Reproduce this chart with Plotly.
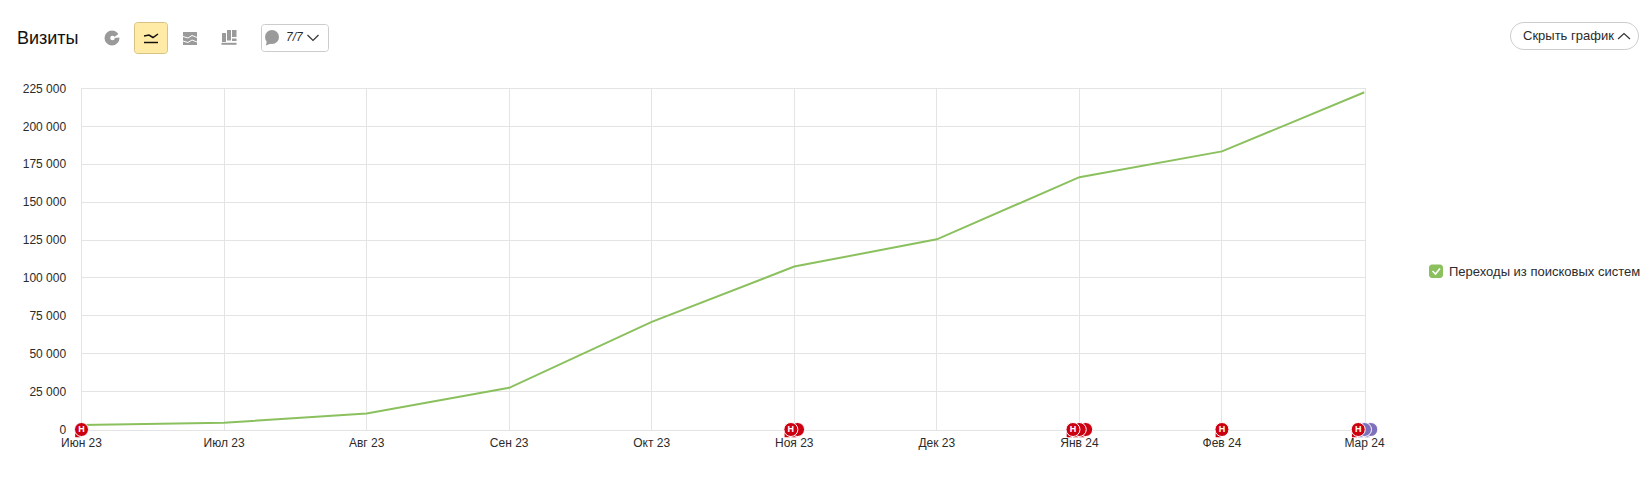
import plotly.graph_objects as go

W, H = 1649, 484
# chart frame in page pixels
L, R, T, B = 81.5, 1364.5, 88.5, 429.5
# larger plotting area that also holds the note markers hanging over the frame
OL, OR, OT, OB = 60.0, 1400.0, 70.0, 450.0

months = ["Июн 23", "Июл 23", "Авг 23", "Сен 23", "Окт 23", "Ноя 23", "Дек 23", "Янв 24", "Фев 24", "Мар 24"]
month_pos = list(range(10))
visits = [3000, 4500, 10500, 27500, 71000, 107500, 125500, 166500, 183500, 222500]
y_ticks = [0, 25000, 50000, 75000, 100000, 125000, 150000, 175000, 200000, 225000]
y_labels = ["0", "25 000", "50 000", "75 000", "100 000", "125 000", "150 000", "175 000", "200 000", "225 000"]
series_name = "Переходы из поисковых систем"

# notes on the time axis, drawn back to front
note_x = [0.0, 5.023, 4.976, 7.044, 6.999, 6.955, 8.0, 9.044, 9.0, 8.956]
note_y = [0] * 10
note_color = ["#cc0011", "#cc0011", "#cc0011", "#cc0011", "#cc0011", "#cc0011", "#cc0011",
              "#7d70bd", "#7d70bd", "#cc0011"]
note_text = ["Н", "", "Н", "", "", "Н", "Н", "", "", "Н"]

X_MAX, Y_MAX = 9, 225000
GREEN = "#8bc05e"
GRID = "#e4e4e4"
TEXT = "#2b2b2b"
FONT = "Liberation Sans"


def px(x):
    return (x - OL) / (OR - OL)


def py(y):
    return (OB - y) / (OB - OT)


def path(pts, close=True):
    d = "M" + " L".join(f"{px(x):.5f},{py(y):.5f}" for x, y in pts)
    return d + (" Z" if close else "")


def rrect(x0, y0, x1, y1, r):
    k = 0.45 * r
    p = lambda x, y: f"{px(x):.5f},{py(y):.5f}"
    return (f"M{p(x0 + r, y0)} L{p(x1 - r, y0)} C{p(x1 - k, y0)} {p(x1, y0 + k)} {p(x1, y0 + r)} "
            f"L{p(x1, y1 - r)} C{p(x1, y1 - k)} {p(x1 - k, y1)} {p(x1 - r, y1)} "
            f"L{p(x0 + r, y1)} C{p(x0 + k, y1)} {p(x0, y1 - k)} {p(x0, y1 - r)} "
            f"L{p(x0, y0 + r)} C{p(x0, y0 + k)} {p(x0 + k, y0)} {p(x0 + r, y0)} Z")


shapes = []


def shape_path(d, fill=None, line=None, width=1):
    shapes.append(dict(type="path", xref="paper", yref="paper", path=d, layer="above",
                       fillcolor=fill or "rgba(0,0,0,0)",
                       line=dict(color=line or "rgba(0,0,0,0)", width=width if line else 0)))


def circle(cx, cy, r, fill):
    shapes.append(dict(type="circle", xref="paper", yref="paper", layer="above",
                       x0=px(cx - r), x1=px(cx + r), y0=py(cy + r), y1=py(cy - r),
                       fillcolor=fill, line=dict(width=0)))


ICON = "#9a9a9a"
# pie icon
circle(112, 38, 7.5, ICON)
circle(112.5, 38, 2.3, "white")
shape_path(path([(113, 38), (120.5, 32.5), (120.5, 37.5)]), fill="white")
# active line-chart button
shape_path(rrect(134.5, 22.5, 167.5, 53.5, 3), fill="#ffeba6", line="#d8c283")
shape_path(path([(144, 36), (149, 35), (153, 37.5), (158, 34)], close=False), line="#111111", width=1.5)
shape_path(path([(144, 42.5), (158, 42.5)], close=False), line="#111111", width=1.5)
# stacked-area icon
shape_path(path([(183, 32), (197, 32), (197, 45), (183, 45)]), fill=ICON)
for yy in (36.5, 41):
    shape_path(path([(183, yy), (188, yy + 1.5), (192, yy - 1), (197, yy + 1)], close=False), line="white", width=1)
# stacked-bars icon
shape_path(path([(222, 33), (226, 33), (226, 42), (222, 42)]), fill=ICON)
shape_path(path([(227, 30), (231, 30), (231, 40.5), (227, 40.5)]), fill=ICON)
shape_path(path([(232, 30), (236.5, 30), (236.5, 37), (232, 37)]), fill=ICON)
shape_path(path([(232, 38.5), (236.5, 38.5), (236.5, 41), (232, 41)]), fill=ICON)
shape_path(path([(221.5, 43.8), (236.5, 43.8)], close=False), line=ICON, width=2)
# notes counter button
shape_path(rrect(261.5, 24.5, 328.5, 51.5, 3), line="#cccccc")
circle(272, 37, 7, ICON)
shape_path(path([(266, 45.5), (267, 40), (272, 43)]), fill=ICON)
shape_path(path([(307.5, 35), (313, 40.5), (318.5, 35)], close=False), line="#333333", width=1.2)
# hide button
shape_path(rrect(1510.5, 22.5, 1638.5, 49.5, 13.5), line="#cccccc")
shape_path(path([(1618, 39), (1624, 33.5), (1630, 39)], close=False), line="#333333", width=1.2)
# legend checkbox
shape_path(rrect(1429, 264.5, 1443, 278, 3), fill=GREEN)
shape_path(path([(1432.5, 271), (1435.5, 274), (1440, 268.5)], close=False), line="white", width=1.6)


def label(x, y, text, size=12, anchor="left", color=TEXT):
    return dict(xref="paper", yref="paper", x=px(x), y=py(y), text=text, showarrow=False,
                xanchor=anchor, yanchor="middle", font=dict(family=FONT, size=size, color=color))


annotations = [
    label(15.5, 38, "Визиты", size=18, color="#111111"),
    label(284, 37, "<i>7/7</i>"),
    label(1520.5, 35.5, "Скрыть график", size=13),
    label(1446.5, 271, series_name, size=13),
]

x_per_px = X_MAX / (R - L)
y_per_px = Y_MAX / (B - T)

fig = go.Figure()
fig.add_trace(go.Scatter(x=month_pos, y=visits, mode="lines", name=series_name,
                         line=dict(color=GREEN, width=2), hoverinfo="skip"))
for x, y, c, t in zip(note_x, note_y, note_color, note_text):
    # little tail of the speech bubble
    fig.add_trace(go.Scatter(x=[x - 4.5 * x_per_px], y=[y - 6 * y_per_px], mode="markers",
                             xaxis="x2", yaxis="y2", hoverinfo="skip",
                             marker=dict(symbol="triangle-sw", size=6, color=c, line=dict(width=0))))
    fig.add_trace(go.Scatter(x=[x], y=[y], mode="markers+text", xaxis="x2", yaxis="y2", hoverinfo="skip",
                             text=[t], textposition="middle center",
                             textfont=dict(family=FONT, size=9, color="white", weight="bold"),
                             marker=dict(symbol="circle", size=14, color=c, line=dict(color="white", width=1))))

fig.update_layout(
    width=W, height=H, autosize=False,
    margin=dict(l=OL, r=W - OR, t=OT, b=H - OB, pad=0),
    paper_bgcolor="white", plot_bgcolor="rgba(0,0,0,0)", showlegend=False,
    shapes=shapes, annotations=annotations,
    font=dict(family=FONT, size=12, color=TEXT),
    xaxis=dict(domain=[px(L), px(R)], range=[0, X_MAX], tickmode="array", tickvals=month_pos, ticktext=months,
               showgrid=True, gridcolor=GRID, gridwidth=1, zeroline=False, anchor="y",
               showline=True, mirror=True, linecolor=GRID, ticks="outside", ticklen=2, tickcolor="rgba(0,0,0,0)",
               tickfont=dict(family=FONT, size=12, color=TEXT)),
    yaxis=dict(domain=[py(B), py(T)], range=[0, Y_MAX], tickmode="array", tickvals=y_ticks, ticktext=y_labels,
               showgrid=True, gridcolor=GRID, gridwidth=1, zeroline=False, anchor="x",
               showline=True, mirror=True, linecolor=GRID, ticks="outside", ticklen=12, tickcolor="rgba(0,0,0,0)",
               tickfont=dict(family=FONT, size=12, color=TEXT)),
    xaxis2=dict(domain=[0, 1], range=[(OL - L) * x_per_px, (OR - L) * x_per_px], visible=False, anchor="y2"),
    yaxis2=dict(domain=[0, 1], range=[(B - OB) * y_per_px, (B - OT) * y_per_px], visible=False, anchor="x2"),
)

fig.write_html("out.html", config=dict(displayModeBar=False),
               post_script="document.body.style.margin='0';document.body.style.overflow='hidden';")
